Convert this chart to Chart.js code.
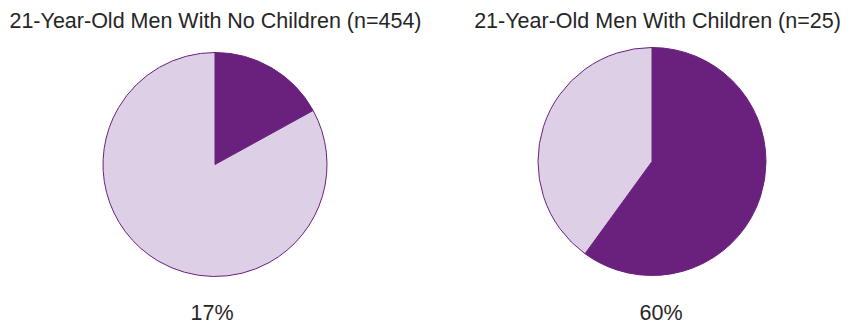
<!DOCTYPE html>
<html>
<head>
<meta charset="utf-8">
<script src="https://cdn.jsdelivr.net/npm/chart.js@4/dist/chart.umd.min.js"></script>
<style>
  html, body { margin: 0; padding: 0; background: #ffffff; }
  #stage { position: relative; width: 856px; height: 326px; overflow: hidden;
           font-family: "Liberation Sans", Arial, Helvetica, sans-serif; color: #262626; }
  .txt { position: absolute; font-size: 21.5px; line-height: 21.5px; white-space: nowrap;
         transform: translateX(-50%); }
  .pie { position: absolute; }
</style>
</head>
<body>
<div id="stage">
  <div class="txt" id="title0" style="left:215.5px; top:11.3px;"></div>
  <div class="txt" id="title1" style="left:657.5px; top:11.3px;"></div>
  <div class="pie" style="left:95px; top:44px; width:240px; height:241px;"><canvas id="pie0"></canvas></div>
  <div class="pie" style="left:532px; top:41px; width:240px; height:241px;"><canvas id="pie1"></canvas></div>
  <div class="txt" id="label0" style="left:212px; top:303.3px;"></div>
  <div class="txt" id="label1" style="left:661px; top:303.3px;"></div>
</div>
<script>
// Two groups of 21-year-old men, split by whether they have children
const groups = ['21-Year-Old Men With No Children', '21-Year-Old Men With Children'];
const sampleSizes = [454, 25];
const sharePct = [17, 60];      // highlighted slice, percent
const restPct = [83, 40];       // remaining slice, percent
const sliceNames = ['Share', 'Remainder'];

const DARK = '#6a207d';
const LIGHT = '#ddd0e6';
const radii = [112, 114];

groups.forEach((name, i) => {
  document.getElementById('title' + i).textContent = name + ' (n=' + sampleSizes[i] + ')';
  document.getElementById('label' + i).textContent = sharePct[i] + '%';

  new Chart(document.getElementById('pie' + i), {
    type: 'pie',
    data: {
      labels: sliceNames,
      datasets: [{
        data: [sharePct[i], restPct[i]],
        backgroundColor: [DARK, LIGHT],
        borderColor: DARK,
        borderWidth: 1
      }]
    },
    options: {
      responsive: true,
      maintainAspectRatio: false,
      devicePixelRatio: 1,
      animation: false,
      radius: radii[i],
      layout: { padding: 0 },
      plugins: {
        legend: { display: false },
        tooltip: { enabled: false },
        title: { display: false }
      }
    }
  });
});
</script>
</body>
</html>
